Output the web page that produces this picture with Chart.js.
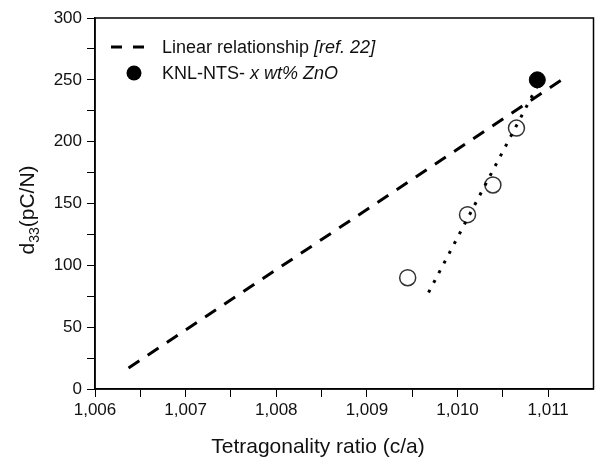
<!DOCTYPE html>
<html>
<head>
<meta charset="utf-8">
<script src="https://cdn.jsdelivr.net/npm/chart.js@4.4.1/dist/chart.umd.min.js"></script>
<style>
  body { margin: 0; background: #fff; }
</style>
</head>
<body>
<canvas id="chart" width="603" height="458"></canvas>
<script>
// measured samples (open circles) and the ZnO sample (filled)
var ratioOpen = [1.00945, 1.01011, 1.01039, 1.01065];
var d33Open = [90, 141, 165, 211];
var ratioZnO = [1.01088];
var d33ZnO = [250];

// linear relationship from ref. 22 (dashed) and trend through samples (dotted)
var linearX = [1.00637, 1.01115];
var linearY = [17, 250];
var trendX = [1.00968, 1.01088];
var trendY = [78, 245];

// axis ticks
var xTickValues = [1.006, 1.0065, 1.007, 1.0075, 1.008, 1.0085, 1.009, 1.0095, 1.010, 1.0105, 1.011];
var xTickLabels = ['1,006', '', '1,007', '', '1,008', '', '1,009', '', '1,010', '', '1,011'];
var yTickValues = [0, 25, 50, 75, 100, 125, 150, 175, 200, 225, 250, 275, 300];
var yTickLabels = ['0', '', '50', '', '100', '', '150', '', '200', '', '250', '', '300'];

function points(xs, ys) {
    return xs.map(function (x, i) { return { x: x, y: ys[i] }; });
}

var FONT = '"Liberation Sans", Arial, sans-serif';
var INK = '#111';

var decorations = {
    id: 'decorations',
    afterDraw: function (chart) {
        var ctx = chart.ctx;
        var a = chart.chartArea;
        ctx.save();

        // frame
        ctx.strokeStyle = '#000';
        ctx.lineWidth = 1.5;
        ctx.setLineDash([]);
        ctx.strokeRect(a.left, a.top, a.right - a.left, a.bottom - a.top);

        // legend
        ctx.lineWidth = 3;
        ctx.setLineDash([11, 11]);
        ctx.beginPath();
        ctx.moveTo(111, 47);
        ctx.lineTo(145, 47);
        ctx.stroke();
        ctx.setLineDash([]);
        ctx.fillStyle = '#000';
        ctx.beginPath();
        ctx.arc(134, 73, 7.5, 0, Math.PI * 2);
        ctx.fill();

        ctx.fillStyle = INK;
        ctx.textBaseline = 'middle';
        ctx.textAlign = 'left';
        ctx.font = '18px ' + FONT;
        var t1 = 'Linear relationship ';
        ctx.fillText(t1, 162, 48);
        var w1 = ctx.measureText(t1).width;
        ctx.font = 'italic 18px ' + FONT;
        ctx.fillText('[ref. 22]', 162 + w1, 48);

        ctx.font = '18px ' + FONT;
        var t2 = 'KNL-NTS- ';
        ctx.fillText(t2, 162, 74);
        var w2 = ctx.measureText(t2).width;
        ctx.font = 'italic 18px ' + FONT;
        ctx.fillText('x wt% ZnO', 162 + w2, 74);

        // x axis title
        ctx.font = '21px ' + FONT;
        ctx.textAlign = 'center';
        ctx.fillText('Tetragonality ratio (c/a)', 318, 447);

        // y axis title with subscript
        ctx.translate(28, 210);
        ctx.rotate(-Math.PI / 2);
        ctx.textAlign = 'left';
        ctx.font = '21px ' + FONT;
        var wd = ctx.measureText('d').width;
        var wr = ctx.measureText('(pC/N)').width;
        ctx.font = '14px ' + FONT;
        var ws = ctx.measureText('33').width;
        var x0 = -(wd + ws + wr) / 2;
        ctx.font = '21px ' + FONT;
        ctx.fillText('d', x0, 0);
        ctx.font = '14px ' + FONT;
        ctx.fillText('33', x0 + wd, 7);
        ctx.font = '21px ' + FONT;
        ctx.fillText('(pC/N)', x0 + wd + ws, 0);

        ctx.restore();
    }
};

new Chart(document.getElementById('chart'), {
    type: 'scatter',
    data: {
        datasets: [{
            type: 'line',
            data: points(linearX, linearY),
            borderColor: '#000',
            borderWidth: 3,
            borderDash: [13, 10],
            pointRadius: 0,
            fill: false
        }, {
            type: 'line',
            data: points(trendX, trendY),
            borderColor: '#000',
            borderWidth: 3,
            borderDash: [3, 8],
            pointRadius: 0,
            fill: false
        }, {
            data: points(ratioOpen, d33Open),
            pointRadius: 8,
            pointBackgroundColor: '#fff',
            pointBorderColor: '#333',
            pointBorderWidth: 1.5
        }, {
            data: points(ratioZnO, d33ZnO),
            pointRadius: 8,
            pointBackgroundColor: '#000',
            pointBorderColor: '#000'
        }]
    },
    options: {
        responsive: false,
        devicePixelRatio: 1,
        animation: false,
        layout: { padding: { top: 18, right: 4, left: 0, bottom: 0 } },
        plugins: {
            legend: { display: false },
            tooltip: { enabled: false }
        },
        scales: {
            x: {
                type: 'linear',
                min: 1.006,
                max: 1.0115,
                afterBuildTicks: function (axis) {
                    axis.ticks = xTickValues.map(function (v) { return { value: v }; });
                },
                afterFit: function (axis) { axis.height = 69; },
                grid: { drawOnChartArea: false, tickLength: 8, color: '#000', lineWidth: 1 },
                border: { color: '#000', width: 1.5 },
                ticks: {
                    autoSkip: false,
                    maxRotation: 0,
                    padding: 3,
                    color: INK,
                    font: { family: FONT, size: 17 },
                    callback: function (v, i) { return xTickLabels[i]; }
                }
            },
            y: {
                min: 0,
                max: 300,
                afterBuildTicks: function (axis) {
                    axis.ticks = yTickValues.map(function (v) { return { value: v }; });
                },
                afterFit: function (axis) { axis.width = 95; },
                grid: { drawOnChartArea: false, tickLength: 8, color: '#000', lineWidth: 1 },
                border: { color: '#000', width: 1.5 },
                ticks: {
                    autoSkip: false,
                    padding: 5,
                    color: INK,
                    font: { family: FONT, size: 17 },
                    callback: function (v, i) { return yTickLabels[i]; }
                }
            }
        }
    },
    plugins: [decorations]
});
</script>
</body>
</html>
